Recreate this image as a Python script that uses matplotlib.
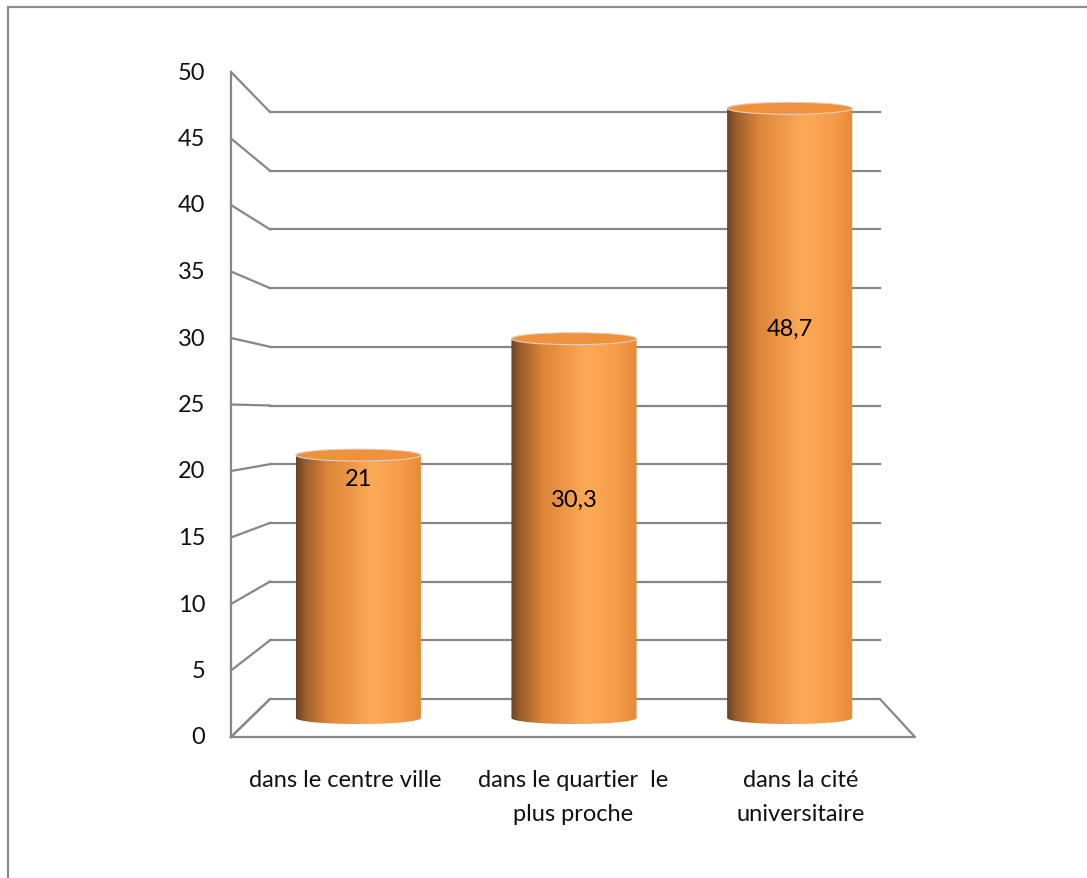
import numpy as np
import matplotlib
matplotlib.use("Agg")
import matplotlib.pyplot as plt
from matplotlib.patches import Ellipse, PathPatch, Rectangle
from matplotlib.path import Path
from matplotlib.colors import LinearSegmentedColormap

plt.rcParams["font.family"] = ["Lato", "DejaVu Sans"]

# --- data
categories = ["dans le centre ville", "dans le quartier  le\nplus proche", "dans la cité\nuniversitaire"]
values = [21, 30.3, 48.7]
value_labels = ["21", "30,3", "48,7"]
label_pos = [19.1, 17.5, 31.1]  # where Excel dropped the labels inside the bars
yticks = [0, 5, 10, 15, 20, 25, 30, 35, 40, 45, 50]

W, H = 1087, 879
grid_col = "#878787"
fs = 17

# --- pseudo-3D geometry (pixels of the original chart)
FRONT = dict(x0=231, dx=228.0, y0=738, dy=13.3)
BACK = dict(x0=270, dx=203.33, y0=700, dy=11.74)
MID_X0, MID_DX, MID_Y0, MID_DY = 250.5, 215.67, 719, 12.52


def to_data(px, py):
    return (px - MID_X0) / MID_DX, (MID_Y0 - py) / MID_DY


def proj(c, v, plane):
    return to_data(plane["x0"] + c * plane["dx"], plane["y0"] - v * plane["dy"])


fig = plt.figure(figsize=(W / 100, H / 100), dpi=100)
ax = fig.add_axes([0, 0, 1, 1])
ax.axis("off")
x_lo, y_lo = to_data(0, H)
x_hi, y_hi = to_data(W, 0)

# outer frame
fig.patches.append(Rectangle((8 / W, -0.1), 1.2, 1 - 8 / H + 0.1, transform=fig.transFigure,
                             fill=False, ec="#8c8c8c", lw=1.6))

# back wall gridlines + left wall diagonals
n = len(categories)
for v in yticks:
    bx0, by = proj(0, v, BACK)
    bx1, _ = proj(n, v, BACK)
    fx, fy = proj(0, v, FRONT)
    if v > 0:
        ax.plot([bx0, bx1], [by, by], color=grid_col, lw=1.6, zorder=1)
    ax.plot([fx, bx0], [fy, by], color=grid_col, lw=1.6, zorder=1)
    ax.annotate(str(v), (fx, fy), xytext=(-18.5, 0), textcoords="offset points",
                ha="right", va="center", fontsize=fs, color="#111111")

# floor
floor = [proj(0, 0, FRONT), proj(0, 0, BACK), proj(n, 0, BACK), proj(n, 0, FRONT), proj(0, 0, FRONT)]
ax.plot([p[0] for p in floor], [p[1] for p in floor], color=grid_col, lw=1.6, zorder=1)
# vertical axis
a0, a1 = proj(0, 0, FRONT), proj(0, 50, FRONT)
ax.plot([a0[0], a1[0]], [a0[1], a1[1]], color=grid_col, lw=1.6, zorder=1)

# cylinders
cmap = LinearSegmentedColormap.from_list("cyl", [
    (0.0, "#6a4024"), (0.07, "#9a5e2c"), (0.25, "#dc8538"),
    (0.6, "#fdaa58"), (0.85, "#f59c48"), (1.0, "#e68936")])
bw = 0.58
eh = 6 / MID_DY
grad = np.linspace(0, 1, 256).reshape(1, -1)
for i, v in enumerate(values):
    c = i + 0.5
    xl, xr = c - bw / 2, c + bw / 2
    t = np.linspace(np.pi, 2 * np.pi, 60)
    verts = [(xl, v), (xl, 0)] + list(zip(c + bw / 2 * np.cos(t), eh * np.sin(t))) + [(xr, v), (xl, v)]
    codes = [Path.MOVETO] + [Path.LINETO] * (len(verts) - 2) + [Path.CLOSEPOLY]
    body = PathPatch(Path(verts, codes), fc="none", ec="none")
    ax.add_patch(body)
    im = ax.imshow(grad, extent=[xl, xr, -eh * 1.2, v], aspect="auto", cmap=cmap, zorder=3)
    im.set_clip_path(body)
    ax.add_patch(Ellipse((c, v), bw, 2 * eh, fc="#f0923c", ec="#e0d0c0", lw=0.8, zorder=4))
    ax.text(c, label_pos[i], value_labels[i], ha="center", va="center", fontsize=fs,
            color="black", zorder=5)
    fx, fy = proj(c, 0, FRONT)
    ax.annotate(categories[i], (fx, fy), xytext=(0, -23), textcoords="offset points",
                ha="center", va="top", fontsize=fs, linespacing=1.78, color="#111111")

ax.set_xlim(x_lo, x_hi)
ax.set_ylim(y_lo, y_hi)

fig.savefig("out.png", dpi=100, facecolor="white")
